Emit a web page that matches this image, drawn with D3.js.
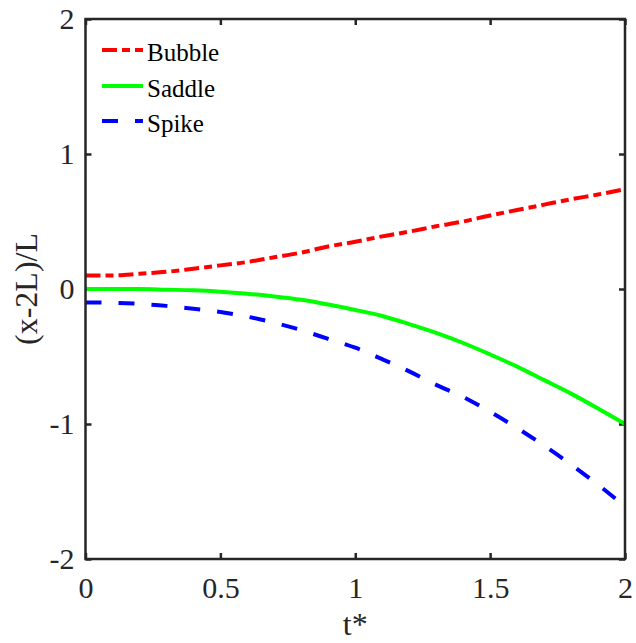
<!DOCTYPE html>
<html>
<head>
<meta charset="utf-8">
<script src="https://cdn.jsdelivr.net/npm/d3@7"></script>
<style>
  html, body { margin: 0; padding: 0; background: #ffffff; }
  svg { display: block; }
</style>
</head>
<body>
<svg id="chart" width="636" height="643"></svg>
<script>
// Dimensionless time t* and front positions (x-2L)/L
const tValues = [0, 0.1, 0.2, 0.3, 0.4, 0.5, 0.6, 0.7, 0.8, 0.9, 1.0,
                 1.1, 1.2, 1.3, 1.4, 1.5, 1.6, 1.7, 1.8, 1.9, 2.0];
const bubble = [0.10, 0.10, 0.113, 0.127, 0.15, 0.175, 0.20, 0.235, 0.27, 0.315, 0.35,
                0.39, 0.425, 0.465, 0.50, 0.545, 0.585, 0.625, 0.665, 0.70, 0.74];
const saddle = [0.0, 0.0, 0.0, -0.005, -0.01, -0.02, -0.035, -0.055, -0.08, -0.115, -0.155,
                -0.20, -0.26, -0.325, -0.40, -0.485, -0.575, -0.675, -0.775, -0.885, -1.0];
const spike  = [-0.10, -0.102, -0.11, -0.125, -0.147, -0.17, -0.205, -0.25, -0.305, -0.37, -0.435,
                -0.52, -0.61, -0.71, -0.80, -0.91, -1.03, -1.16, -1.30, -1.45, -1.61];
const seriesNames = ["Bubble", "Saddle", "Spike"];
const xTicks = [0, 0.5, 1, 1.5, 2];
const yTicks = [-2, -1, 0, 1, 2];

const styles = {
  Bubble: { color: "#ff0000", dash: "15,5,8,5" },
  Saddle: { color: "#00ff00", dash: null },
  Spike:  { color: "#0000ff", dash: "16,17" }
};
const seriesData = { Bubble: bubble, Saddle: saddle, Spike: spike };

const serif = "'Liberation Serif', 'Times New Roman', serif";
const svg = d3.select("#chart");
const plotLeft = 85.5, plotRight = 625, plotTop = 19, plotBottom = 559;

const x = d3.scaleLinear().domain([0, 2]).range([plotLeft, plotRight]);
const y = d3.scaleLinear().domain([-2, 2]).range([plotBottom, plotTop]);

svg.append("rect").attr("width", 636).attr("height", 643).attr("fill", "#ffffff");

const fmt = v => d3.format("~g")(v).replace("\u2212", "-");
const axisColor = "#262626";

// Bottom axis with labels
const gx = svg.append("g").attr("transform", `translate(0,${plotBottom})`)
  .call(d3.axisBottom(x).tickValues(xTicks).tickFormat(fmt)
        .tickSizeInner(-6).tickSizeOuter(0).tickPadding(18));
// Left axis with labels
const gy = svg.append("g").attr("transform", `translate(${plotLeft},0)`)
  .call(d3.axisLeft(y).tickValues(yTicks).tickFormat(fmt)
        .tickSizeInner(-6).tickSizeOuter(0).tickPadding(11));
// Top and right axes: ticks only
const gxt = svg.append("g").attr("transform", `translate(0,${plotTop})`)
  .call(d3.axisTop(x).tickValues(xTicks).tickFormat("")
        .tickSizeInner(-6).tickSizeOuter(0));
const gyr = svg.append("g").attr("transform", `translate(${plotRight},0)`)
  .call(d3.axisRight(y).tickValues(yTicks).tickFormat("")
        .tickSizeInner(-6).tickSizeOuter(0));

[gx, gy, gxt, gyr].forEach(g => {
  g.attr("font-family", null).attr("font-size", null);
  g.select(".domain").remove();
  g.selectAll(".tick line").attr("stroke", axisColor).attr("stroke-width", 2.5);
  g.selectAll(".tick text")
    .style("font-family", serif)
    .style("font-size", "30px")
    .style("fill", axisColor);
});

// Curves
const line = d3.line()
  .x((d, i) => x(tValues[i]))
  .y(d => y(d))
  .curve(d3.curveMonotoneX);

svg.append("clipPath").attr("id", "plotClip")
  .append("rect").attr("x", plotLeft).attr("y", plotTop)
  .attr("width", plotRight - plotLeft).attr("height", plotBottom - plotTop);

seriesNames.forEach(name => {
  const p = svg.append("path")
    .datum(seriesData[name])
    .attr("d", line)
    .attr("fill", "none")
    .attr("stroke", styles[name].color)
    .attr("stroke-width", 4)
    .attr("clip-path", "url(#plotClip)");
  if (styles[name].dash) p.attr("stroke-dasharray", styles[name].dash);
});

// Axes box
svg.append("rect")
  .attr("x", plotLeft).attr("y", plotTop)
  .attr("width", plotRight - plotLeft).attr("height", plotBottom - plotTop)
  .attr("fill", "none").attr("stroke", axisColor).attr("stroke-width", 2.5);

// Legend
const legendY = [50, 86, 121];
seriesNames.forEach((name, i) => {
  const l = svg.append("line")
    .attr("x1", 102).attr("x2", 143)
    .attr("y1", legendY[i]).attr("y2", legendY[i])
    .attr("stroke", styles[name].color).attr("stroke-width", 4);
  if (styles[name].dash) l.attr("stroke-dasharray", styles[name].dash);
  svg.append("text")
    .attr("x", 147).attr("y", legendY[i] + 11)
    .style("font-family", serif).style("font-size", "25px").style("fill", "#000000")
    .text(name);
});

// Axis labels
svg.append("text")
  .attr("x", (plotLeft + plotRight) / 2).attr("y", 635)
  .attr("text-anchor", "middle")
  .style("font-family", serif).style("font-size", "32px").style("fill", axisColor)
  .text("t*");
svg.append("text")
  .attr("transform", `translate(37,${(plotTop + plotBottom) / 2}) rotate(-90)`)
  .attr("text-anchor", "middle")
  .style("font-family", serif).style("font-size", "32px").style("fill", axisColor)
  .text("(x-2L)/L");
</script>
</body>
</html>
